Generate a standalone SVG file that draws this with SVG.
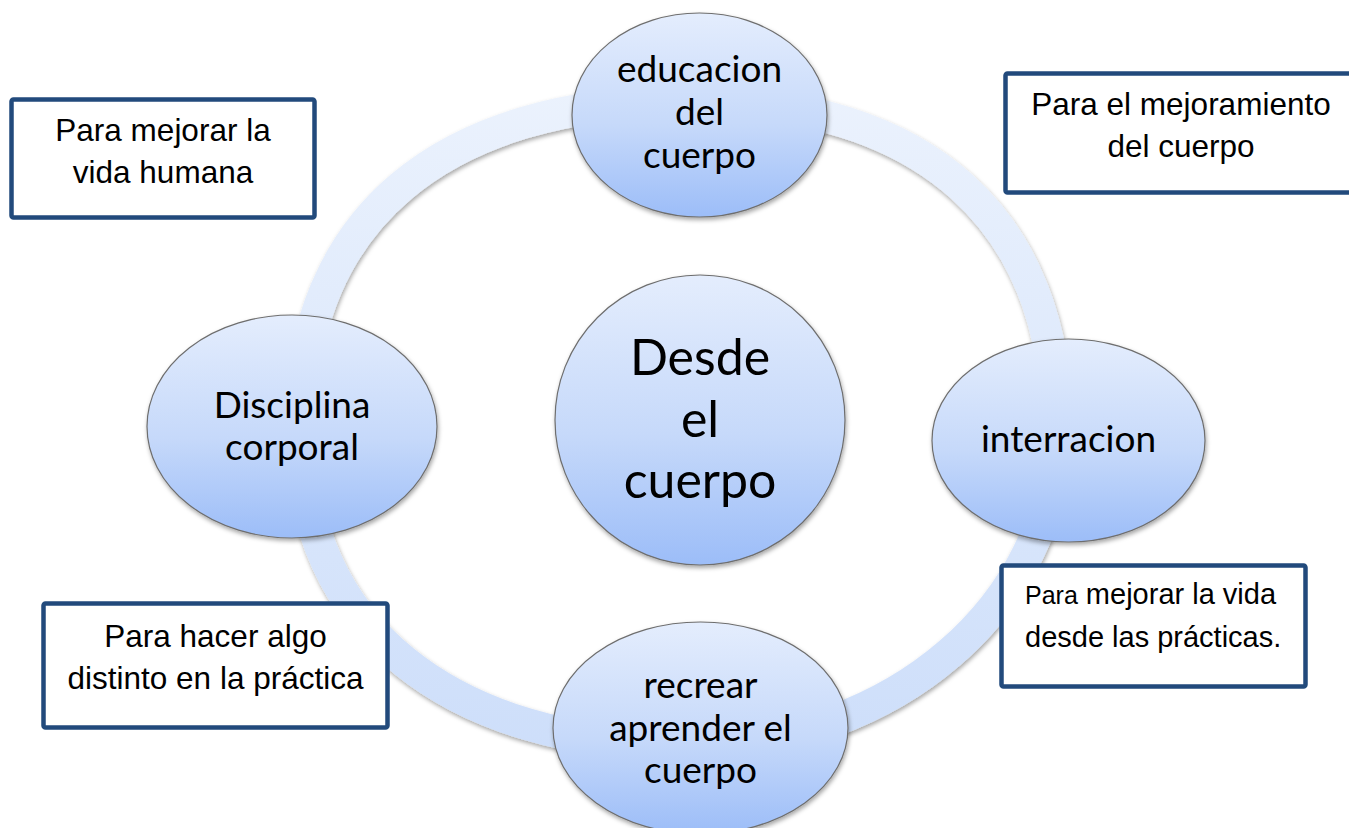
<svg xmlns="http://www.w3.org/2000/svg" width="1349" height="828" viewBox="0 0 1349 828">
<defs>
<linearGradient id="ringGrad" gradientUnits="userSpaceOnUse" x1="0" y1="90" x2="0" y2="760">
<stop offset="0" stop-color="#EBF2FD"/>
<stop offset="1" stop-color="#CDDEFA"/>
</linearGradient>
<linearGradient id="nodeGrad" x1="0" y1="0" x2="0" y2="1">
<stop offset="0" stop-color="#E4EDFD"/>
<stop offset="0.55" stop-color="#C6D9FA"/>
<stop offset="1" stop-color="#9CBDF8"/>
</linearGradient>
<filter id="shadow" x="-10%" y="-10%" width="120%" height="125%">
<feDropShadow dx="1" dy="2.5" stdDeviation="2" flood-color="#000" flood-opacity="0.35"/>
</filter>
</defs>
<style>
.node{fill:url(#nodeGrad);stroke:#6E6E6E;stroke-width:1.2;filter:url(#shadow)}
.nt{font-family:Lato,"Open Sans",sans-serif;font-size:37px;fill:#000;text-anchor:middle}
.big{font-size:50px}
.box{fill:#fff;stroke:#224A7C;stroke-width:4.5}
.bt{font-family:"Liberation Sans",Arial,sans-serif;font-size:31.5px;fill:#000;text-anchor:middle}
.bl{font-family:"Liberation Sans",Arial,sans-serif;font-size:29px;fill:#000}
</style>
<rect width="1349" height="828" fill="#fff"/>
<g id="connectors">
<path d="M690,101 C924.9,101 1057,219.4 1057,430 C1057,604.5 892.7,746 690,746 C448.2,746 300,625.9 300,430 C300,219.4 440.4,101 690,101 Z" fill="none" stroke="url(#ringGrad)" stroke-width="32" filter="url(#shadow)"/>
</g>
<g id="box-vida-humana">
<rect class="box" x="11.5" y="99.5" width="303" height="118" rx="2"/>
<text class="bt" x="163" y="141">Para mejorar la</text>
<text class="bt" x="163" y="183">vida humana</text>
</g>
<g id="box-mejoramiento">
<rect class="box" x="1005.5" y="73.5" width="350" height="119" rx="2"/>
<text class="bt" x="1181" y="115">Para el mejoramiento</text>
<text class="bt" x="1181" y="157">del cuerpo</text>
</g>
<g id="box-distinto">
<rect class="box" x="43.5" y="603.5" width="344" height="124" rx="2"/>
<text class="bt" x="215.5" y="647">Para hacer algo</text>
<text class="bt" x="215.5" y="689">distinto en la práctica</text>
</g>
<g id="box-practicas">
<rect class="box" x="1001.5" y="565.5" width="304" height="121" rx="2"/>
<text class="bl" x="1025" y="604"><tspan font-size="25px">Para</tspan> mejorar la vida</text>
<text class="bl" x="1025" y="647">desde las prácticas.</text>
</g>
<g id="node-educacion">
<ellipse class="node" cx="699.5" cy="115" rx="127.5" ry="102"/>
<text class="nt" x="699.5" y="82">educacion</text>
<text class="nt" x="699.5" y="125">del</text>
<text class="nt" x="699.5" y="168">cuerpo</text>
</g>
<g id="node-disciplina">
<ellipse class="node" cx="292" cy="426.5" rx="145" ry="111.5"/>
<text class="nt" x="292" y="418">Disciplina</text>
<text class="nt" x="292" y="460">corporal</text>
</g>
<g id="node-interracion">
<ellipse class="node" cx="1068.5" cy="440.5" rx="136.5" ry="101.5"/>
<text class="nt" x="1068.5" y="452">interracion</text>
</g>
<g id="node-recrear">
<ellipse class="node" cx="700.5" cy="728" rx="147.5" ry="106"/>
<text class="nt" x="700.5" y="698">recrear</text>
<text class="nt" x="700.5" y="741">aprender el</text>
<text class="nt" x="700.5" y="783">cuerpo</text>
</g>
<g id="node-center">
<circle class="node" cx="700" cy="420" r="145"/>
<text class="nt big" x="700" y="375">Desde</text>
<text class="nt big" x="700" y="437">el</text>
<text class="nt big" x="700" y="498">cuerpo</text>
</g>
</svg>
